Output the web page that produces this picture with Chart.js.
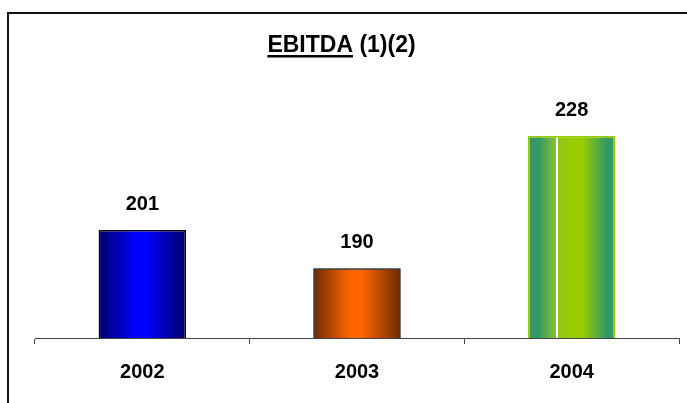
<!DOCTYPE html>
<html>
<head>
<meta charset="utf-8">
<script src="https://cdn.jsdelivr.net/npm/chart.js@4.4.1/dist/chart.umd.min.js"></script>
<style>
  html, body { margin: 0; padding: 0; background: #fff; }
  #wrap { position: relative; width: 687px; height: 403px; overflow: hidden; }
  #frame { position: absolute; left: 7px; top: 12px; width: 700px; height: 420px;
           border-left: 2px solid #111; border-top: 2px solid #111; pointer-events: none; }
  canvas { position: absolute; left: 0; top: 0; }
</style>
</head>
<body>
<div id="wrap">
  <canvas id="c" width="687" height="403"></canvas>
  <div id="frame"></div>
</div>
<script>
// Years and EBITDA values
const years = ['2002', '2003', '2004'];
const ebitda = [201, 190, 228];

// Title pieces: underlined word, then the footnote markers
const titleMain = 'EBITDA';
const titleNotes = ' (1)(2)';

// Colour stops per bar: [edge colour, centre colour]
const barShades = [
  ['#000066', '#0000ff'],
  ['#6b2a00', '#ff6600'],
  ['#339966', '#99cc00']
];
const barEdges = ['#000000', '#000000', '#99cc00'];

const FONT = '"Liberation Sans", Arial, Helvetica, sans-serif';
const BAR_PCT = 0.4075;

function barGradient(ctx) {
  const chart = ctx.chart;
  const area = chart.chartArea;
  const i = ctx.dataIndex;
  const shade = barShades[i];
  if (!area) return shade[1];
  const xs = chart.scales.x;
  const cx = xs.getPixelForValue(i);
  const w = (area.right - area.left) / years.length * BAR_PCT;
  const g = chart.ctx.createLinearGradient(cx - w / 2, 0, cx + w / 2, 0);
  if (i === 2) {
    g.addColorStop(0, shade[0]);
    g.addColorStop(0.12, shade[0]);
    g.addColorStop(0.32, '#88bf33');
    g.addColorStop(0.322, '#ffffff');
    g.addColorStop(0.338, '#ffffff');
    g.addColorStop(0.34, '#93c41e');
    g.addColorStop(0.5, shade[1]);
    g.addColorStop(0.62, shade[1]);
    g.addColorStop(0.9, shade[0]);
    g.addColorStop(1, shade[0]);
  } else {
    g.addColorStop(0, shade[0]);
    g.addColorStop(0.42, shade[1]);
    g.addColorStop(0.55, shade[1]);
    g.addColorStop(1, shade[0]);
  }
  return g;
}

// Draws the underlined title and the value above each bar
const annotate = {
  id: 'annotate',
  afterDraw(chart) {
    const ctx = chart.ctx;
    ctx.save();
    ctx.fillStyle = '#000';
    ctx.textBaseline = 'alphabetic';

    // title
    ctx.font = 'bold 23px ' + FONT;
    const wMain = ctx.measureText(titleMain).width;
    const wNotes = ctx.measureText(titleNotes).width;
    const x0 = 341.5 - (wMain + wNotes) / 2;
    const yT = 52;
    ctx.textAlign = 'left';
    ctx.fillText(titleMain, x0, yT);
    ctx.fillText(titleNotes, x0 + wMain, yT);
    ctx.fillRect(x0, yT + 3, wMain, 2.5);

    // value labels
    ctx.font = 'bold 20px ' + FONT;
    ctx.textAlign = 'center';
    const meta = chart.getDatasetMeta(0);
    meta.data.forEach((el, i) => {
      ctx.fillText(String(ebitda[i]), el.x, el.y - 20);
    });
    ctx.restore();
  }
};

new Chart(document.getElementById('c'), {
  type: 'bar',
  data: {
    labels: years,
    datasets: [{
      data: ebitda,
      backgroundColor: barGradient,
      borderColor: barEdges,
      borderWidth: [1.5, 1.5, 2],
      borderSkipped: 'bottom',
      barPercentage: BAR_PCT,
      categoryPercentage: 1
    }]
  },
  options: {
    responsive: false,
    animation: false,
    devicePixelRatio: 1,
    layout: { padding: { top: 94, left: 35, right: 8, bottom: 3 } },
    plugins: {
      legend: { display: false },
      title: { display: false },
      tooltip: { enabled: false }
    },
    scales: {
      x: {
        grid: {
          drawOnChartArea: false,
          drawTicks: true,
          tickLength: 6,
          color: '#444',
          offset: true
        },
        border: { display: true, color: '#444', width: 1 },
        ticks: {
          color: '#000',
          padding: 16,
          font: { family: FONT, size: 20, weight: 'bold' }
        }
      },
      y: {
        display: false,
        min: 170,
        max: 240
      }
    }
  },
  plugins: [annotate]
});
</script>
</body>
</html>
